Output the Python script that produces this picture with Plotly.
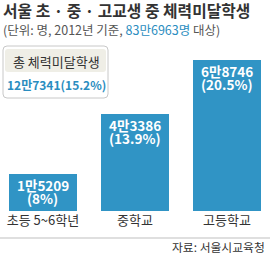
import plotly.graph_objects as go

categories = ["초등 5~6학년", "중학교", "고등학교"]
counts = [15209, 43386, 68746]
percents = ["8%", "13.9%", "20.5%"]
total_count = 127341
total_pct = "15.2%"
surveyed = 836963
axis_floor = -2167  # visual baseline offset used by the original graphic

FONT = "Noto Sans CJK KR"
BLUE_BAR = "#3094c5"
BLUE_TXT = "#2a8dc0"

def man(n):
    return f"{n // 10000}만{n % 10000}"

W, H = 270, 255
T, B = 60, 44
PH = H - T - B

def px(x):
    return x / W

def py(y):
    return (H - B - y) / PH

fig = go.Figure()
fig.add_trace(go.Bar(
    x=categories, y=[c - axis_floor for c in counts], base=axis_floor, width=0.74,
    marker=dict(color=BLUE_BAR, line=dict(width=0)),
    hoverinfo="skip",
))

ann = []
for c, n, p in zip(categories, counts, percents):
    ann.append(dict(x=c, y=n, xref="x", yref="y", yanchor="middle", yshift=-11,
                    text=man(n), showarrow=False, align="center", borderpad=0,
                    font=dict(family=FONT, size=13.5, color="white", weight=600)))
    ann.append(dict(x=c, y=n, xref="x", yref="y", yanchor="middle", yshift=-24,
                    text=f"({p})", showarrow=False, align="center", borderpad=0,
                    font=dict(family=FONT, size=13.5, color="white", weight=600)))

ann.append(dict(x=px(2), y=py(10), xref="paper", yref="paper", xanchor="left", yanchor="middle",
                text="<b>서울 초 · 중 · 고교생 중 체력미달학생</b>", showarrow=False, borderpad=0,
                font=dict(family=FONT, size=15.8, color="#333333")))
ann.append(dict(x=px(2), y=py(29), xref="paper", yref="paper", xanchor="left", yanchor="middle",
                text=f"(단위: 명, 2012년 기준, <span style='color:{BLUE_TXT}'>{man(surveyed)}명</span> 대상)",
                showarrow=False, borderpad=0, font=dict(family=FONT, size=12.5, color="#555555")))
ann.append(dict(x=px(56), y=py(61), xref="paper", yref="paper", xanchor="center", yanchor="middle",
                text="총 체력미달학생", showarrow=False, borderpad=0,
                font=dict(family=FONT, size=13, color="#333333")))
ann.append(dict(x=px(56), y=py(84), xref="paper", yref="paper", xanchor="center", yanchor="middle",
                text=f"{man(total_count)}({total_pct})", showarrow=False, borderpad=0,
                font=dict(family=FONT, size=12, color=BLUE_TXT, weight=600)))
ann.append(dict(x=px(266), y=py(247), xref="paper", yref="paper", xanchor="right", yanchor="middle",
                text="자료: 서울시교육청", showarrow=False, borderpad=0,
                font=dict(family=FONT, size=11.8, color="#333333")))

def rounded(x0, y0, x1, y1, r):
    pts = [
        f"M {px(x0 + r)},{py(y0)}",
        f"L {px(x1 - r)},{py(y0)}",
        f"Q {px(x1)},{py(y0)} {px(x1)},{py(y0 + r)}",
        f"L {px(x1)},{py(y1 - r)}",
        f"Q {px(x1)},{py(y1)} {px(x1 - r)},{py(y1)}",
        f"L {px(x0 + r)},{py(y1)}",
        f"Q {px(x0)},{py(y1)} {px(x0)},{py(y1 - r)}",
        f"L {px(x0)},{py(y0 + r)}",
        f"Q {px(x0)},{py(y0)} {px(x0 + r)},{py(y0)}",
        "Z",
    ]
    return " ".join(pts)

shapes = [
    dict(type="path", xref="paper", yref="paper", path=rounded(3, 46, 108, 98, 4),
         line=dict(color="#c8c8c8", width=1), fillcolor="white", layer="below"),
    dict(type="path", xref="paper", yref="paper", path=rounded(5, 49, 106, 72, 3),
         line=dict(width=0), fillcolor="#efeee6", layer="below"),
    dict(type="line", xref="paper", yref="paper", x0=0, x1=1, y0=py(238), y1=py(238),
         line=dict(color="#d4d4d4", width=1.5)),
]

fig.update_layout(
    width=W, height=H,
    margin=dict(l=0, r=0, t=T, b=B, pad=0),
    paper_bgcolor="white", plot_bgcolor="white",
    showlegend=False,
    annotations=ann, shapes=shapes,
    xaxis=dict(range=[-0.467, 2.467], showgrid=False, zeroline=False, showline=False,
               ticks="", tickfont=dict(family=FONT, size=13, color="#333333"), fixedrange=True),
    yaxis=dict(range=[axis_floor, max(counts)], visible=False, fixedrange=True),
    bargap=0,
)

fig.write_html("out.html", config=dict(displayModeBar=False))
